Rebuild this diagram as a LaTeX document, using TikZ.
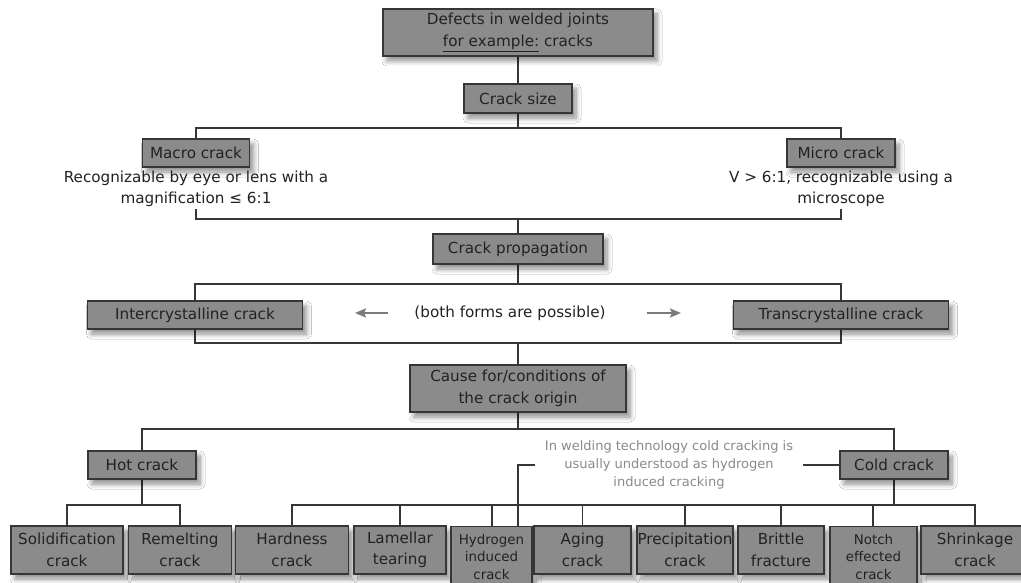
\documentclass[tikz,border=0pt]{standalone}
\usepackage{fontspec}
\setmainfont{DejaVu Sans}
\usetikzlibrary{shadows.blur,arrows.meta,backgrounds}
\definecolor{boxfill}{HTML}{8B8B8B}
\definecolor{boxline}{HTML}{363636}
\definecolor{txt}{HTML}{222222}
\definecolor{notegray}{HTML}{8A8A8A}
\definecolor{arrgray}{HTML}{7A7A7A}
\tikzset{
  box/.style={draw=boxline, line width=1.2pt, fill=boxfill, text=txt, inner sep=0pt,
    align=center, font=\fontsize{15.2}{21.5}\selectfont,
    blur shadow={shadow xshift=4pt, shadow yshift=-5pt, shadow opacity=45, shadow blur radius=5pt, shadow blur steps=7}},
  smallbox/.style={box, font=\fontsize{13.4}{17.5}\selectfont},
  plain/.style={text=txt, inner sep=0pt, align=center, font=\fontsize{15.2}{21.5}\selectfont},
  notetext/.style={text=notegray, inner sep=0pt, align=center, font=\fontsize{13}{18}\selectfont},
  conn/.style={draw=boxline, line width=1.6pt},
  grayarrow/.style={draw=arrgray, line width=2.6pt, -{Stealth[length=11pt,width=9pt,inset=2pt]}}
}
\begin{document}
\begin{tikzpicture}[x=1pt,y=-1pt]
\useasboundingbox (0,0) rectangle (1021,583);
\clip (0,0) rectangle (1021,583);

% coordinates
\coordinate (h1) at (518,128);
\coordinate (mt) at (196,209);
\coordinate (ut) at (841,209);
\coordinate (h2) at (518,219);
\coordinate (hp) at (518,284);
\coordinate (hq) at (518,343);
\coordinate (h3) at (518,429);
\coordinate (h4) at (142,505);
\coordinate (h5) at (894,505);
\coordinate (hn) at (518,465);
\coordinate (al1) at (388,313);
\coordinate (al2) at (355,313);
\coordinate (ar1) at (647,313);
\coordinate (ar2) at (681,313);

% main boxes
\node[box, minimum width=270, minimum height=47] (top) at (518,32.5)
  {Defects in welded joints\\\underline{for example:} cracks};
\node[box, minimum width=108, minimum height=29] (size) at (518,98.5) {Crack size};
\node[box, minimum width=107, minimum height=28] (macro) at (196,153) {Macro crack};
\node[box, minimum width=108, minimum height=28] (micro) at (841,153) {Micro crack};
\node[plain] (mtext) at (196,189) {Recognizable by eye or lens with a\\magnification ≤ 6:1};
\node[plain] (utext) at (841,189) {V > 6:1, recognizable using a\\microscope};
\node[box, minimum width=170, minimum height=30] (prop) at (518,249) {Crack propagation};
\node[box, minimum width=215, minimum height=28] (inter) at (195,315) {Intercrystalline crack};
\node[box, minimum width=215, minimum height=28] (trans) at (841,315) {Transcrystalline crack};
\node[plain] (both) at (510,313) {(both forms are possible)};
\node[box, minimum width=216, minimum height=47] (cause) at (518,388.5)
  {Cause for/conditions of\\the crack origin};
\node[box, minimum width=108, minimum height=28] (hot) at (142,465) {Hot crack};
\node[box, minimum width=108, minimum height=28] (cold) at (894,465) {Cold crack};

% bottom boxes
\node[box, minimum width=112, minimum height=48] (sol) at (67,550) {Solidification\\crack};
\node[box, minimum width=103, minimum height=48] (rem) at (180,550) {Remelting\\crack};
\node[box, minimum width=113, minimum height=48] (hard) at (292,550) {Hardness\\crack};
\node[box, minimum width=92, minimum height=48] (lam) at (400,550) {Lamellar\\tearing};
\node[smallbox, minimum width=81, minimum height=60, anchor=north] (hyd) at (491.5,526) {Hydrogen\\induced\\crack};
\node[box, minimum width=97, minimum height=48] (aging) at (582.5,550) {Aging\\crack};
\node[box, minimum width=96, minimum height=48] (prec) at (685,550) {Precipitation\\crack};
\node[box, minimum width=86, minimum height=48] (brit) at (781,550) {Brittle\\fracture};
\node[smallbox, minimum width=87, minimum height=60, anchor=north] (notch) at (873.5,526) {Notch\\effected\\crack};
\node[box, minimum width=108, minimum height=48] (shr) at (975,550) {Shrinkage\\crack};

% note
\node[notetext, minimum width=267, minimum height=50] (note) at (669,465)
  {In welding technology cold cracking is\\usually understood as hydrogen\\induced cracking};

\begin{scope}[on background layer]
\fill[white] (0,0) rectangle (1021,583);
\draw[conn] (top) -- (size);
\draw[conn] (size) -- (h1);
\draw[conn] (macro.north) |- (h1) -| (micro.north);
\draw[conn] (mt) |- (h2) -| (ut);
\draw[conn] (h2) -- (prop);
\draw[conn] (prop) -- (hp);
\draw[conn] (inter.north) |- (hp) -| (trans.north);
\draw[conn] (inter.south) |- (hq) -| (trans.south);
\draw[conn] (hq) -- (cause);
\draw[conn] (cause) -- (h3);
\draw[conn] (hot.north) |- (h3) -| (cold.north);
\draw[conn] (hot) -- (h4);
\draw[conn] (sol.north) |- (h4) -| (rem.north);
\draw[conn] (cold) -- (h5);
\draw[conn] (hard.north) |- (h5) -| (shr.north);
\foreach \n in {lam,aging,prec,brit}
  \draw[conn] (\n.north) -- (\n.north |- h5);
\draw[conn] (hyd.north -| 492,0) -- (492,505);
\draw[conn] (notch.north -| 873,0) -- (873,505);
\draw[conn] (cold.west) -- (note.east);
\draw[conn] (note.west) -- (hn) -- (hn |- hyd.north);
\end{scope}

% gray arrows
\draw[grayarrow] (al1) -- (al2);
\draw[grayarrow] (ar1) -- (ar2);
\end{tikzpicture}
\end{document}
